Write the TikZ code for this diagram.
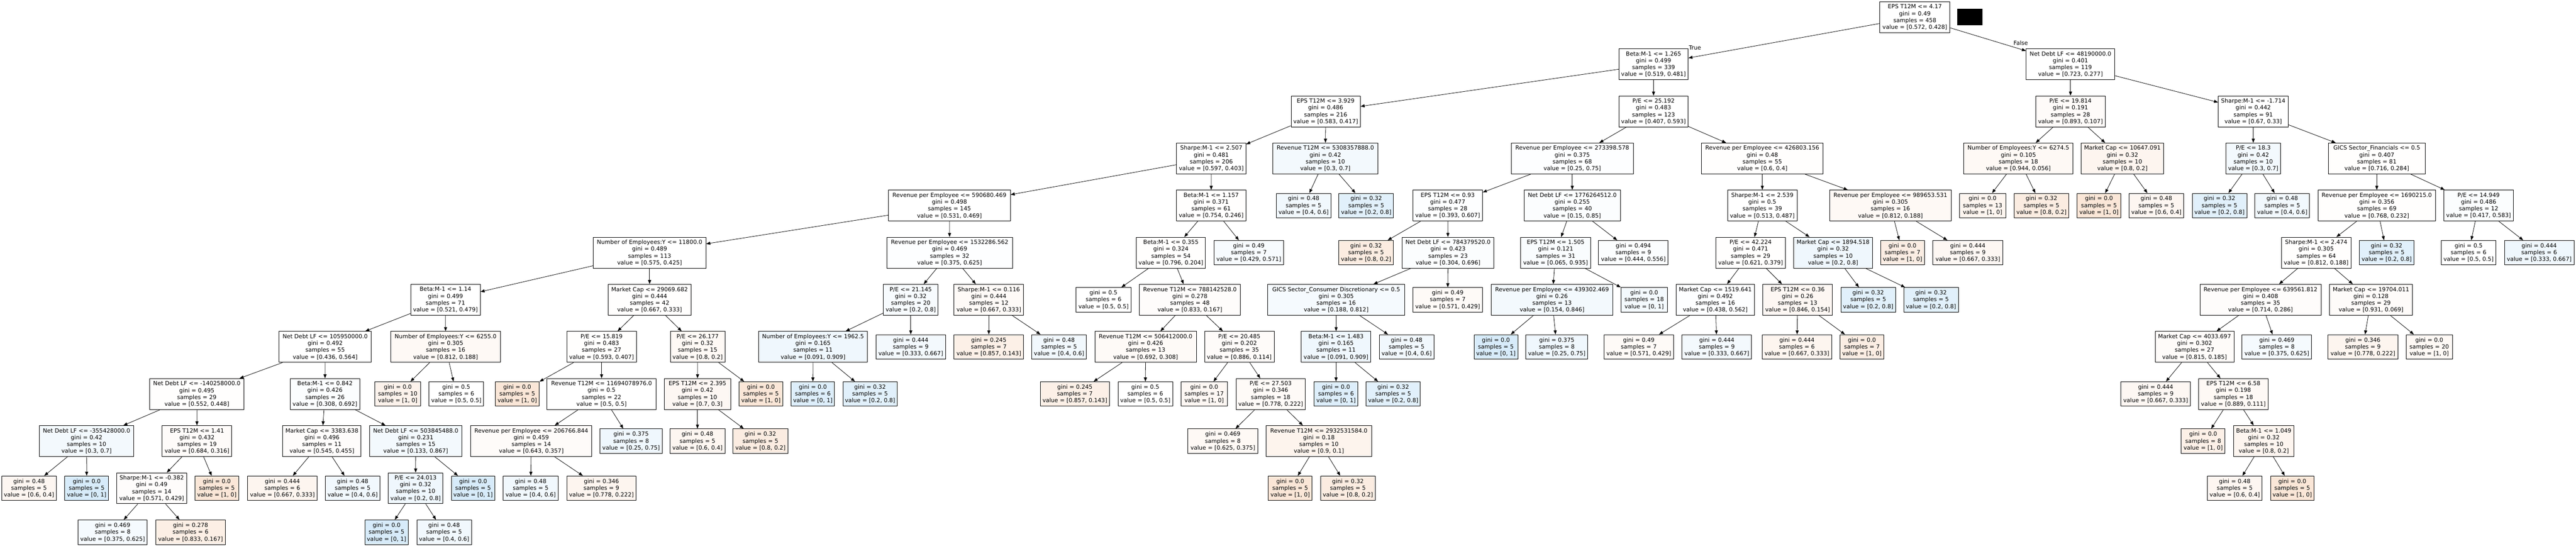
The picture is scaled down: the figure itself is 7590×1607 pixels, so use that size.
\documentclass[tikz,border=0pt]{standalone}
\usepackage{fontspec}
\setmainfont{DejaVu Sans}
\usetikzlibrary{arrows.meta}
\definecolor{co}{RGB}{229,129,57}
\definecolor{cb}{RGB}{57,157,229}
\newcommand{\dtint}[4]{#1\\gini = #2\\samples = #3\\value = [#4]}
\newcommand{\dtleaf}[3]{gini = #1\\samples = #2\\value = [#3]}
\tikzset{
  tn/.style={draw=black, line width=0.7pt, rectangle, align=center, inner sep=0pt,
    font=\fontsize{8.4}{10.05}\selectfont},
  inode/.style={tn, minimum height=45.5pt},
  lnode/.style={tn, minimum height=36pt},
  bw/.style={minimum width=#1*0.5pt},
  fo/.style={fill=co!#1!white},
  fb/.style={fill=cb!#1!white},
  fw/.style={fill=white},
  conn/.style={line width=0.6pt, -{Triangle[length=6pt,width=4.5pt]}},
  lbl/.style={font=\fontsize{8.4}{10.05}\selectfont, inner sep=0pt}
}
\begin{document}
\begin{tikzpicture}[x=0.5pt,y=-0.5pt]
\useasboundingbox[fill=white] (0,0) rectangle (7590,1607);
% rank 0
\node[inode,bw=206,fw] (n0) at (5642,50.5) {\dtint{EPS T12M <= 4.17}{0.49}{458}{0.572, 0.428}};
\fill[black] (5767,26) rectangle (5841,75);
% rank 1
\node[inode,bw=204,fw] (n1) at (4872,189.2) {\dtint{Beta:M-1 <= 1.265}{0.499}{339}{0.519, 0.481}};
\node[inode,bw=261,fw] (n2) at (6100.5,189.2) {\dtint{Net Debt LF <= 48190000.0}{0.401}{119}{0.723, 0.277}};
% rank 2
\node[inode,bw=204,fw] (n3) at (3906,327.9) {\dtint{EPS T12M <= 3.929}{0.486}{216}{0.583, 0.417}};
\node[inode,bw=204,fw] (n4) at (4872,327.9) {\dtint{P/E <= 25.192}{0.483}{123}{0.407, 0.593}};
\node[inode,bw=205,fo=3] (n5) at (6100.5,327.9) {\dtint{P/E <= 19.814}{0.191}{28}{0.893, 0.107}};
\node[inode,bw=206,fw] (n6) at (6639,327.9) {\dtint{Sharpe:M-1 <= -1.714}{0.442}{91}{0.67, 0.33}};
% rank 3
\node[inode,bw=204,fw] (n7) at (3569,466.6) {\dtint{Sharpe:M-1 <= 2.507}{0.481}{206}{0.597, 0.403}};
\node[inode,bw=310,fb=6] (n8) at (3905,466.6) {\dtint{Revenue T12M <= 5308357888.0}{0.42}{10}{0.3, 0.7}};
\node[inode,bw=359,fb=1] (n9) at (4632.5,466.6) {\dtint{Revenue per Employee <= 273398.578}{0.375}{68}{0.25, 0.75}};
\node[inode,bw=359,fo=1] (n10) at (5192.5,466.6) {\dtint{Revenue per Employee <= 426803.156}{0.48}{55}{0.6, 0.4}};
\node[inode,bw=322,fo=5] (n11) at (5947,466.6) {\dtint{Number of Employees:Y <= 6274.5}{0.105}{18}{0.944, 0.056}};
\node[inode,bw=243,fo=8] (n12) at (6253.5,466.6) {\dtint{Market Cap <= 10647.091}{0.32}{10}{0.8, 0.2}};
\node[inode,bw=162,fb=6] (n13) at (6639,466.6) {\dtint{P/E <= 18.3}{0.42}{10}{0.3, 0.7}};
\node[inode,bw=286,fo=1] (n14) at (7003,466.6) {\dtint{GICS Sector\_Financials <= 0.5}{0.407}{81}{0.716, 0.284}};
% rank 4
\node[inode,bw=359,fw] (n15) at (2797.5,605.3) {\dtint{Revenue per Employee <= 590680.469}{0.498}{145}{0.531, 0.469}};
\node[inode,bw=205,fo=1] (n16) at (3568.5,605.3) {\dtint{Beta:M-1 <= 1.157}{0.371}{61}{0.754, 0.246}};
\node[lnode,bw=162,fb=7] (n17) at (3841,605.3) {\dtleaf{0.48}{5}{0.4, 0.6}};
\node[lnode,bw=161,fb=15] (n18) at (4025.5,605.3) {\dtleaf{0.32}{5}{0.2, 0.8}};
\node[inode,bw=205,fb=1] (n19) at (4265.5,605.3) {\dtint{EPS T12M <= 0.93}{0.477}{28}{0.393, 0.607}};
\node[inode,bw=283,fb=2] (n20) at (4632.5,605.3) {\dtint{Net Debt LF <= 1776264512.0}{0.255}{40}{0.15, 0.85}};
\node[inode,bw=205,fw] (n21) at (5192.5,605.3) {\dtint{Sharpe:M-1 <= 2.539}{0.5}{39}{0.513, 0.487}};
\node[inode,bw=358,fo=5] (n22) at (5570,605.3) {\dtint{Revenue per Employee <= 989653.531}{0.305}{16}{0.812, 0.188}};
\node[lnode,bw=137,fo=8] (n23) at (5841.5,605.3) {\dtleaf{0.0}{13}{1, 0}};
\node[lnode,bw=160,fo=15] (n24) at (6015,605.3) {\dtleaf{0.32}{5}{0.8, 0.2}};
\node[lnode,bw=129,fo=20] (n25) at (6184.5,605.3) {\dtleaf{0.0}{5}{1, 0}};
\node[lnode,bw=161,fo=7] (n26) at (6353.5,605.3) {\dtleaf{0.48}{5}{0.6, 0.4}};
\node[lnode,bw=161,fb=15] (n27) at (6539.5,605.3) {\dtleaf{0.32}{5}{0.2, 0.8}};
\node[lnode,bw=161,fb=7] (n28) at (6724.5,605.3) {\dtleaf{0.48}{5}{0.4, 0.6}};
\node[inode,bw=346,fo=1] (n29) at (7003,605.3) {\dtint{Revenue per Employee <= 1690215.0}{0.356}{69}{0.768, 0.232}};
\node[inode,bw=204,fb=2] (n30) at (7303,605.3) {\dtint{P/E <= 14.949}{0.486}{12}{0.417, 0.583}};
% rank 5
\node[inode,bw=332,fw] (n31) at (1914,744) {\dtint{Number of Employees:Y <= 11800.0}{0.489}{113}{0.575, 0.425}};
\node[inode,bw=370,fb=1] (n32) at (2798,744) {\dtint{Revenue per Employee <= 1532286.562}{0.469}{32}{0.375, 0.625}};
\node[inode,bw=204,fo=1] (n33) at (3450,744) {\dtint{Beta:M-1 <= 0.355}{0.324}{54}{0.796, 0.204}};
\node[lnode,bw=205,fb=4] (n34) at (3679.5,744) {\dtleaf{0.49}{7}{0.429, 0.571}};
\node[lnode,bw=160,fo=15] (n35) at (4025,744) {\dtleaf{0.32}{5}{0.8, 0.2}};
\node[inode,bw=271,fb=2] (n36) at (4266.5,744) {\dtint{Net Debt LF <= 784379520.0}{0.423}{23}{0.304, 0.696}};
\node[inode,bw=205,fb=3] (n37) at (4583.5,744) {\dtint{EPS T12M <= 1.505}{0.121}{31}{0.065, 0.935}};
\node[lnode,bw=205,fb=2] (n38) at (4812.5,744) {\dtleaf{0.494}{9}{0.444, 0.556}};
\node[inode,bw=206,fo=1] (n39) at (5158,744) {\dtint{P/E <= 42.224}{0.471}{29}{0.621, 0.379}};
\node[inode,bw=232,fb=8] (n40) at (5401,744) {\dtint{Market Cap <= 1894.518}{0.32}{10}{0.2, 0.8}};
\node[lnode,bw=129,fo=14] (n41) at (5605.5,744) {\dtleaf{0.0}{7}{1, 0}};
\node[lnode,bw=206,fo=6] (n42) at (5798,744) {\dtleaf{0.444}{9}{0.667, 0.333}};
\node[inode,bw=205,fo=1] (n43) at (6824.5,744) {\dtint{Sharpe:M-1 <= 2.474}{0.305}{64}{0.812, 0.188}};
\node[lnode,bw=162,fb=15] (n44) at (7032,744) {\dtleaf{0.32}{5}{0.2, 0.8}};
\node[lnode,bw=161,fw] (n45) at (7273.5,744) {\dtleaf{0.5}{6}{0.5, 0.5}};
\node[lnode,bw=205,fb=8] (n46) at (7481.5,744) {\dtleaf{0.444}{6}{0.333, 0.667}};
% rank 6
\node[inode,bw=205,fw] (n47) at (1312.5,882.7) {\dtint{Beta:M-1 <= 1.14}{0.499}{71}{0.521, 0.479}};
\node[inode,bw=244,fo=1] (n48) at (1914,882.7) {\dtint{Market Cap <= 29069.682}{0.444}{42}{0.667, 0.333}};
\node[inode,bw=161,fb=4] (n49) at (2683.5,882.7) {\dtint{P/E <= 21.145}{0.32}{20}{0.2, 0.8}};
\node[inode,bw=205,fo=4] (n50) at (2913.5,882.7) {\dtint{Sharpe:M-1 <= 0.116}{0.444}{12}{0.667, 0.333}};
\node[lnode,bw=161,fw] (n51) at (3251.5,882.7) {\dtleaf{0.5}{6}{0.5, 0.5}};
\node[inode,bw=298,fo=2] (n52) at (3506,882.7) {\dtint{Revenue T12M <= 788142528.0}{0.278}{48}{0.833, 0.167}};
\node[inode,bw=404,fb=5] (n53) at (3937,882.7) {\dtint{GICS Sector\_Consumer Discretionary <= 0.5}{0.305}{16}{0.188, 0.812}};
\node[lnode,bw=205,fo=4] (n54) at (4265.5,882.7) {\dtleaf{0.49}{7}{0.571, 0.429}};
\node[inode,bw=358,fb=6] (n55) at (4573,882.7) {\dtint{Revenue per Employee <= 439302.469}{0.26}{13}{0.154, 0.846}};
\node[lnode,bw=137,fb=6] (n56) at (4844.5,882.7) {\dtleaf{0.0}{18}{0, 1}};
\node[inode,bw=232,fb=1] (n57) at (5054,882.7) {\dtint{Market Cap <= 1519.641}{0.492}{16}{0.438, 0.562}};
\node[inode,bw=205,fo=6] (n58) at (5296.5,882.7) {\dtint{EPS T12M <= 0.36}{0.26}{13}{0.846, 0.154}};
\node[lnode,bw=161,fb=15] (n59) at (5504.5,882.7) {\dtleaf{0.32}{5}{0.2, 0.8}};
\node[lnode,bw=161,fb=15] (n60) at (5689.5,882.7) {\dtleaf{0.32}{5}{0.2, 0.8}};
\node[inode,bw=357,fo=2] (n61) at (6660.5,882.7) {\dtint{Revenue per Employee <= 639561.812}{0.408}{35}{0.714, 0.286}};
\node[inode,bw=244,fo=3] (n62) at (6986,882.7) {\dtint{Market Cap <= 19704.011}{0.128}{29}{0.931, 0.069}};
% rank 7
\node[inode,bw=272,fw] (n63) at (958,1021.4) {\dtint{Net Debt LF <= 105950000.0}{0.492}{55}{0.436, 0.564}};
\node[inode,bw=322,fo=5] (n64) at (1313,1021.4) {\dtint{Number of Employees:Y <= 6255.0}{0.305}{16}{0.812, 0.188}};
\node[inode,bw=205,fo=1] (n65) at (1772.5,1021.4) {\dtint{P/E <= 15.819}{0.483}{27}{0.593, 0.407}};
\node[inode,bw=161,fo=5] (n66) at (2055.5,1021.4) {\dtint{P/E <= 26.177}{0.32}{15}{0.8, 0.2}};
\node[inode,bw=321,fb=8] (n67) at (2395.5,1021.4) {\dtint{Number of Employees:Y <= 1962.5}{0.165}{11}{0.091, 0.909}};
\node[lnode,bw=205,fb=6] (n68) at (2683.5,1021.4) {\dtleaf{0.444}{9}{0.333, 0.667}};
\node[lnode,bw=205,fo=12] (n69) at (2913.5,1021.4) {\dtleaf{0.245}{7}{0.857, 0.143}};
\node[lnode,bw=161,fb=7] (n70) at (3120.5,1021.4) {\dtleaf{0.48}{5}{0.4, 0.6}};
\node[inode,bw=299,fo=4] (n71) at (3375.5,1021.4) {\dtint{Revenue T12M <= 506412000.0}{0.426}{13}{0.692, 0.308}};
\node[inode,bw=205,fo=3] (n72) at (3651.5,1021.4) {\dtint{P/E <= 20.485}{0.202}{35}{0.886, 0.114}};
\node[inode,bw=205,fb=8] (n73) at (3936.5,1021.4) {\dtint{Beta:M-1 <= 1.483}{0.165}{11}{0.091, 0.909}};
\node[lnode,bw=161,fb=7] (n74) at (4144.5,1021.4) {\dtleaf{0.48}{5}{0.4, 0.6}};
\node[lnode,bw=129,fb=20] (n75) at (4407.5,1021.4) {\dtleaf{0.0}{5}{0, 1}};
\node[lnode,bw=182,fb=8] (n76) at (4587,1021.4) {\dtleaf{0.375}{8}{0.25, 0.75}};
\node[lnode,bw=205,fo=4] (n77) at (4828.5,1021.4) {\dtleaf{0.49}{7}{0.571, 0.429}};
\node[lnode,bw=205,fb=6] (n78) at (5058.5,1021.4) {\dtleaf{0.444}{9}{0.333, 0.667}};
\node[lnode,bw=205,fo=8] (n79) at (5294.5,1021.4) {\dtleaf{0.444}{6}{0.667, 0.333}};
\node[lnode,bw=130,fo=14] (n80) at (5486,1021.4) {\dtleaf{0.0}{7}{1, 0}};
\node[inode,bw=232,fo=3] (n81) at (6466,1021.4) {\dtint{Market Cap <= 4033.697}{0.302}{27}{0.815, 0.185}};
\node[lnode,bw=205,fb=5] (n82) at (6708.5,1021.4) {\dtleaf{0.469}{8}{0.375, 0.625}};
\node[lnode,bw=206,fo=8] (n83) at (6962,1021.4) {\dtleaf{0.346}{9}{0.778, 0.222}};
\node[lnode,bw=137,fo=5] (n84) at (7157.5,1021.4) {\dtleaf{0.0}{20}{1, 0}};
% rank 8
\node[inode,bw=278,fo=1] (n85) at (580,1160.1) {\dtint{Net Debt LF <= -140258000.0}{0.495}{29}{0.552, 0.448}};
\node[inode,bw=205,fb=2] (n86) at (957.5,1160.1) {\dtint{Beta:M-1 <= 0.842}{0.426}{26}{0.308, 0.692}};
\node[lnode,bw=136,fo=10] (n87) at (1172,1160.1) {\dtleaf{0.0}{10}{1, 0}};
\node[lnode,bw=161,fw] (n88) at (1344.5,1160.1) {\dtleaf{0.5}{6}{0.5, 0.5}};
\node[lnode,bw=130,fo=20] (n89) at (1524,1160.1) {\dtleaf{0.0}{5}{1, 0}};
\node[inode,bw=321,fw] (n90) at (1772.5,1160.1) {\dtint{Revenue T12M <= 11694078976.0}{0.5}{22}{0.5, 0.5}};
\node[inode,bw=196,fo=6] (n91) at (2055,1160.1) {\dtint{EPS T12M <= 2.395}{0.42}{10}{0.7, 0.3}};
\node[lnode,bw=128,fo=20] (n92) at (2242,1160.1) {\dtleaf{0.0}{5}{1, 0}};
\node[lnode,bw=128,fb=17] (n93) at (2395,1160.1) {\dtleaf{0.0}{6}{0, 1}};
\node[lnode,bw=159,fb=15] (n94) at (2563.5,1160.1) {\dtleaf{0.32}{5}{0.2, 0.8}};
\node[lnode,bw=204,fo=12] (n95) at (3167,1160.1) {\dtleaf{0.245}{7}{0.857, 0.143}};
\node[lnode,bw=161,fw] (n96) at (3374.5,1160.1) {\dtleaf{0.5}{6}{0.5, 0.5}};
\node[lnode,bw=136,fo=6] (n97) at (3548,1160.1) {\dtleaf{0.0}{17}{1, 0}};
\node[inode,bw=204,fo=4] (n98) at (3744,1160.1) {\dtint{P/E <= 27.503}{0.346}{18}{0.778, 0.222}};
\node[lnode,bw=129,fb=17] (n99) at (3936.5,1160.1) {\dtleaf{0.0}{6}{0, 1}};
\node[lnode,bw=160,fb=15] (n100) at (4105,1160.1) {\dtleaf{0.32}{5}{0.2, 0.8}};
\node[lnode,bw=205,fo=6] (n101) at (6351.5,1160.1) {\dtleaf{0.444}{9}{0.667, 0.333}};
\node[inode,bw=205,fo=5] (n102) at (6580.5,1160.1) {\dtint{EPS T12M <= 6.58}{0.198}{18}{0.889, 0.111}};
% rank 9
\node[inode,bw=278,fb=6] (n103) at (255,1298.8) {\dtint{Net Debt LF <= -355428000.0}{0.42}{10}{0.3, 0.7}};
\node[inode,bw=205,fo=3] (n104) at (580.5,1298.8) {\dtint{EPS T12M <= 1.41}{0.432}{19}{0.684, 0.316}};
\node[inode,bw=231,fo=2] (n105) at (948.5,1298.8) {\dtint{Market Cap <= 3383.638}{0.496}{11}{0.545, 0.455}};
\node[inode,bw=272,fb=6] (n106) at (1225,1298.8) {\dtint{Net Debt LF <= 503845488.0}{0.231}{15}{0.133, 0.867}};
\node[inode,bw=357,fo=3] (n107) at (1565.5,1298.8) {\dtint{Revenue per Employee <= 206766.844}{0.459}{14}{0.643, 0.357}};
\node[lnode,bw=183,fb=8] (n108) at (1859.5,1298.8) {\dtleaf{0.375}{8}{0.25, 0.75}};
\node[lnode,bw=162,fo=7] (n109) at (2055,1298.8) {\dtleaf{0.48}{5}{0.6, 0.4}};
\node[lnode,bw=161,fo=15] (n110) at (2240.5,1298.8) {\dtleaf{0.32}{5}{0.8, 0.2}};
\node[lnode,bw=206,fo=5] (n111) at (3603,1298.8) {\dtleaf{0.469}{8}{0.625, 0.375}};
\node[inode,bw=310,fo=9] (n112) at (3886,1298.8) {\dtint{Revenue T12M <= 2932531584.0}{0.18}{10}{0.9, 0.1}};
\node[lnode,bw=129,fo=12] (n113) at (6491.5,1298.8) {\dtleaf{0.0}{8}{1, 0}};
\node[inode,bw=178,fo=8] (n114) at (6670,1298.8) {\dtint{Beta:M-1 <= 1.049}{0.32}{10}{0.8, 0.2}};
% rank 10
\node[lnode,bw=161,fo=7] (n115) at (85.5,1437.5) {\dtleaf{0.48}{5}{0.6, 0.4}};
\node[lnode,bw=129,fb=20] (n116) at (255.5,1437.5) {\dtleaf{0.0}{5}{0, 1}};
\node[inode,bw=206,fo=2] (n117) at (447,1437.5) {\dtint{Sharpe:M-1 <= -0.382}{0.49}{14}{0.571, 0.429}};
\node[lnode,bw=128,fo=20] (n118) at (639,1437.5) {\dtleaf{0.0}{5}{1, 0}};
\node[lnode,bw=204,fo=8] (n119) at (832,1437.5) {\dtleaf{0.444}{6}{0.667, 0.333}};
\node[lnode,bw=160,fb=7] (n120) at (1039,1437.5) {\dtleaf{0.48}{5}{0.4, 0.6}};
\node[inode,bw=161,fb=8] (n121) at (1224.5,1437.5) {\dtint{P/E <= 24.013}{0.32}{10}{0.2, 0.8}};
\node[lnode,bw=128,fb=20] (n122) at (1394,1437.5) {\dtleaf{0.0}{5}{0, 1}};
\node[lnode,bw=161,fb=7] (n123) at (1563.5,1437.5) {\dtleaf{0.48}{5}{0.4, 0.6}};
\node[lnode,bw=204,fo=8] (n124) at (1772,1437.5) {\dtleaf{0.346}{9}{0.778, 0.222}};
\node[lnode,bw=129,fo=20] (n125) at (3801.5,1437.5) {\dtleaf{0.0}{5}{1, 0}};
\node[lnode,bw=161,fo=15] (n126) at (3971.5,1437.5) {\dtleaf{0.32}{5}{0.8, 0.2}};
\node[lnode,bw=161,fo=7] (n127) at (6584.5,1437.5) {\dtleaf{0.48}{5}{0.6, 0.4}};
\node[lnode,bw=128,fo=20] (n128) at (6754,1437.5) {\dtleaf{0.0}{5}{1, 0}};
% rank 11
\node[lnode,bw=204,fb=5] (n129) at (332,1567) {\dtleaf{0.469}{8}{0.375, 0.625}};
\node[lnode,bw=205,fo=13] (n130) at (561.5,1567) {\dtleaf{0.278}{6}{0.833, 0.167}};
\node[lnode,bw=128,fb=20] (n131) at (1139,1567) {\dtleaf{0.0}{5}{0, 1}};
\node[lnode,bw=161,fb=7] (n132) at (1308.5,1567) {\dtleaf{0.48}{5}{0.4, 0.6}};
% edges
\foreach \p/\c in {n0/n1,n0/n2,n1/n3,n1/n4,n2/n5,n2/n6,n3/n7,n3/n8,n4/n9,n4/n10,
  n5/n11,n5/n12,n6/n13,n6/n14,n7/n15,n7/n16,n8/n17,n8/n18,n9/n19,n9/n20,
  n10/n21,n10/n22,n11/n23,n11/n24,n12/n25,n12/n26,n13/n27,n13/n28,n14/n29,n14/n30,
  n15/n31,n15/n32,n16/n33,n16/n34,n19/n35,n19/n36,n20/n37,n20/n38,n21/n39,n21/n40,
  n22/n41,n22/n42,n29/n43,n29/n44,n30/n45,n30/n46,n31/n47,n31/n48,n32/n49,n32/n50,
  n33/n51,n33/n52,n36/n53,n36/n54,n37/n55,n37/n56,n39/n57,n39/n58,n40/n59,n40/n60,
  n43/n61,n43/n62,n47/n63,n47/n64,n48/n65,n48/n66,n49/n67,n49/n68,n50/n69,n50/n70,
  n52/n71,n52/n72,n53/n73,n53/n74,n55/n75,n55/n76,n57/n77,n57/n78,n58/n79,n58/n80,
  n61/n81,n61/n82,n62/n83,n62/n84,n63/n85,n63/n86,n64/n87,n64/n88,n65/n89,n65/n90,
  n66/n91,n66/n92,n67/n93,n67/n94,n71/n95,n71/n96,n72/n97,n72/n98,n73/n99,n73/n100,
  n81/n101,n81/n102,n85/n103,n85/n104,n86/n105,n86/n106,n90/n107,n90/n108,n91/n109,n91/n110,
  n98/n111,n98/n112,n102/n113,n102/n114,n103/n115,n103/n116,n104/n117,n104/n118,n105/n119,n105/n120,
  n106/n121,n106/n122,n107/n123,n107/n124,n112/n125,n112/n126,n114/n127,n114/n128,n117/n129,n117/n130,
  n121/n131,n121/n132}
  \draw[conn] (\p) -- (\c);
% edge labels
\node[lbl] (ltrue) at (4994,141) {True};
\node[lbl] (lfalse) at (5954,127) {False};
\end{tikzpicture}
\end{document}
